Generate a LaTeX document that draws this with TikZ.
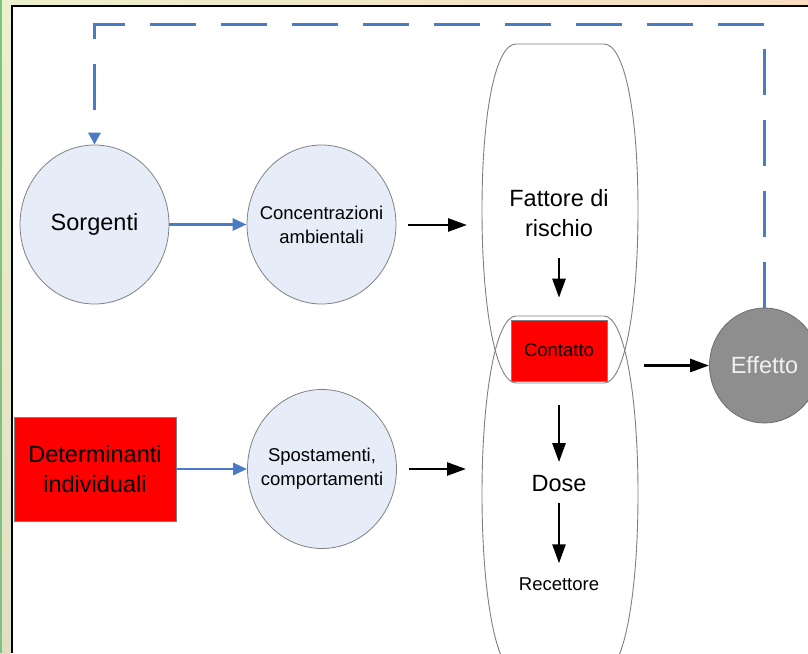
\documentclass[tikz,border=0pt]{standalone}
\usepackage{fontspec}
\setmainfont{Liberation Sans}
\usetikzlibrary{arrows.meta,shapes.geometric}
\definecolor{bubblefill}{HTML}{E6EDF8}
\definecolor{flowblue}{HTML}{4A7CC6}
\definecolor{rimgray}{HTML}{808080}
\definecolor{effgray}{HTML}{8E8E8E}
\definecolor{stripgreen}{HTML}{7CC47F}
\definecolor{stripa}{HTML}{ECF0CC}
\definecolor{stripb}{HTML}{F6F1C6}
\definecolor{stripc}{HTML}{F8DCC0}
\definecolor{stripd}{HTML}{F2D6C2}
\definecolor{stripe}{HTML}{E2DEC4}
\tikzset{
  bigtext/.style={font=\fontsize{23.5}{30.5}\selectfont},
  smalltext/.style={font=\fontsize{18.5}{24}\selectfont},
  bubble/.style={ellipse,draw=rimgray,fill=bubblefill,line width=0.8pt,
    minimum width=149pt,minimum height=159pt,inner xsep=-12pt,inner ysep=0pt,
    align=center},
  redbox/.style={rectangle,draw=rimgray,fill=red,line width=0.6pt,
    inner sep=0pt,align=center},
  label/.style={inner sep=0pt,align=center},
  blueline/.style={draw=flowblue,line width=2.8pt,
    -{Triangle[length=14pt,width=12pt]}},
  blackline/.style={line width=2.6pt,-{Triangle[length=19pt,width=13pt]}},
  feedback/.style={draw=flowblue,line width=3pt,dash pattern=on 46pt off 25pt,
    -{Triangle[length=12pt,width=12pt]}},
  barrel/.style={draw=rimgray,line width=0.9pt}
}

\begin{document}
\begin{tikzpicture}[x=1pt,y=-1pt]
  \useasboundingbox (0,0) rectangle (808,653);
  \clip (0,0) rectangle (808,653);
  % frame
  \shade[left color=stripa,middle color=stripb,right color=stripc] (0,0) rectangle (808,6);
  \shade[top color=stripa,middle color=stripd,bottom color=stripe] (0,6) rectangle (11,653);
  \fill[stripgreen] (0,0) rectangle (2,653);
  \fill[white] (12,7) rectangle (808,653);
  \draw[line width=2pt] (11.5,653) -- (11.5,6) -- (808,6);
  % barrels
  \draw[barrel] (516,44) -- (604,44) .. controls (624,44) and (638,110) .. (638,210)
    .. controls (638,310) and (624,383) .. (604,383) -- (516,383)
    .. controls (496,383) and (482,310) .. (482,210)
    .. controls (482,110) and (496,44) .. (516,44) -- cycle;
  \draw[barrel] (516,316) -- (604,316) .. controls (624,316) and (638,394) .. (638,494)
    .. controls (638,594) and (624,672) .. (604,672) -- (516,672)
    .. controls (496,672) and (482,594) .. (482,494)
    .. controls (482,394) and (496,316) .. (516,316) -- cycle;
  % nodes
  \node[bubble,bigtext] (src) at (94.5,224.5) {Sorgenti};
  \node[bubble,smalltext] (conc) at (321.5,224.5) {Concentrazioni\\ambientali};
  \node[bubble,smalltext] (spost) at (322,469) {Spostamenti,\\comportamenti};
  \node[redbox,bigtext,minimum width=162pt,minimum height=104pt] (det) at (95,469) {Determinanti\\individuali};
  \node[label,bigtext] (fatt) at (559,213) {Fattore di\\rischio};
  \node[redbox,smalltext,minimum width=96pt,minimum height=61pt] (cont) at (559,350.5) {Contatto};
  \node[label,bigtext] (dose) at (559,483.5) {Dose};
  \node[label,smalltext] (rec) at (559,584) {Recettore};
  \node[ellipse,draw=rimgray!85!black,fill=effgray,line width=0.8pt,text=white!94!black,
    bigtext,minimum width=110pt,minimum height=115pt,inner sep=0pt] (eff) at (764.5,365.5) {Effetto};
  \coordinate (in1) at (467,225);
  \coordinate (in2) at (466,469);
  \coordinate (fbtop) at (430,24);
  % edges
  \draw[blueline] (src) -- (conc);
  \draw[blueline] (det) -- (spost);
  \draw[blackline,shorten <=12pt] (conc.east |- in1) -- (in1);
  \draw[blackline,shorten <=12pt] (spost.east |- in2) -- (in2);
  \draw[blackline,shorten <=21pt,shorten >=22pt] (fatt.south) -- (cont.north);
  \draw[blackline,shorten <=24pt,shorten >=13pt] (cont.south) -- (dose.north);
  \draw[blackline,shorten <=11pt,shorten >=14pt] (dose.south) -- (rec.north);
  \draw[blackline,shorten <=37pt] (cont.east |- eff.west) -- (eff.west);
  % feedback
  \draw[feedback] (eff.north) |- (fbtop) -| (src.north);
\end{tikzpicture}
\end{document}
